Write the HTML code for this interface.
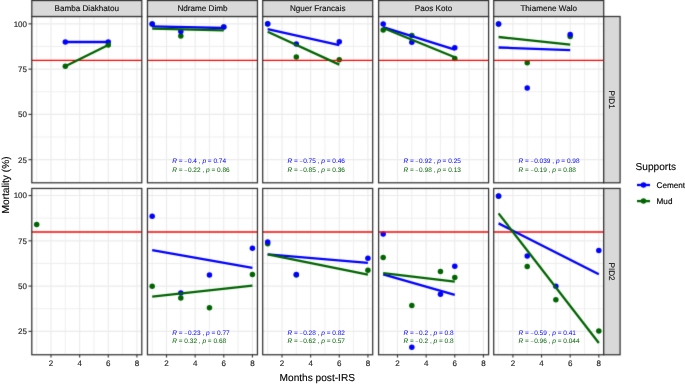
<!DOCTYPE html><html><head><meta charset="utf-8"><style>html,body{margin:0;padding:0;background:#fff;}body{width:685px;height:385px;overflow:hidden;}#wrap{width:685px;height:385px;will-change:transform;}svg{display:block;font-family:"Liberation Sans",sans-serif;text-rendering:geometricPrecision;}.tk{fill:#262626;stroke:#262626;stroke-width:0.15px;}.st{fill:#141414;stroke:#141414;stroke-width:0.15px;}.lt{fill:#000;stroke:#000;stroke-width:0.15px;}.tt{fill:#000;stroke:#000;stroke-width:0.12px;}</style></head><body><div id="wrap">
<svg width="685" height="385" viewBox="0 0 685 385">
<defs><filter id="bl" x="0" y="0" width="685" height="385" filterUnits="userSpaceOnUse" color-interpolation-filters="sRGB"><feConvolveMatrix order="3" kernelMatrix="0.0121 0.0858 0.0121 0.0858 0.6084 0.0858 0.0121 0.0858 0.0121" edgeMode="duplicate"/></filter></defs>
<g filter="url(#bl)">
<rect width="685" height="385" fill="#fff"/>
<line x1="36.68" y1="16.5" x2="36.68" y2="182.8" stroke="#ebebeb" stroke-width="0.8"/>
<line x1="65.32" y1="16.5" x2="65.32" y2="182.8" stroke="#ebebeb" stroke-width="0.8"/>
<line x1="93.96" y1="16.5" x2="93.96" y2="182.8" stroke="#ebebeb" stroke-width="0.8"/>
<line x1="122.60" y1="16.5" x2="122.60" y2="182.8" stroke="#ebebeb" stroke-width="0.8"/>
<line x1="31.8" y1="137.04" x2="141.8" y2="137.04" stroke="#ebebeb" stroke-width="0.8"/>
<line x1="31.8" y1="91.76" x2="141.8" y2="91.76" stroke="#ebebeb" stroke-width="0.8"/>
<line x1="31.8" y1="46.49" x2="141.8" y2="46.49" stroke="#ebebeb" stroke-width="0.8"/>
<line x1="51.00" y1="16.5" x2="51.00" y2="182.8" stroke="#ebebeb" stroke-width="1.1"/>
<line x1="79.64" y1="16.5" x2="79.64" y2="182.8" stroke="#ebebeb" stroke-width="1.1"/>
<line x1="108.28" y1="16.5" x2="108.28" y2="182.8" stroke="#ebebeb" stroke-width="1.1"/>
<line x1="136.92" y1="16.5" x2="136.92" y2="182.8" stroke="#ebebeb" stroke-width="1.1"/>
<line x1="31.8" y1="159.67" x2="141.8" y2="159.67" stroke="#ebebeb" stroke-width="1.1"/>
<line x1="31.8" y1="114.40" x2="141.8" y2="114.40" stroke="#ebebeb" stroke-width="1.1"/>
<line x1="31.8" y1="69.12" x2="141.8" y2="69.12" stroke="#ebebeb" stroke-width="1.1"/>
<line x1="31.8" y1="23.85" x2="141.8" y2="23.85" stroke="#ebebeb" stroke-width="1.1"/>
<circle cx="65.32" cy="42.00" r="2.75" fill="#0000ff"/>
<circle cx="108.28" cy="42.00" r="2.75" fill="#0000ff"/>
<circle cx="65.32" cy="66.20" r="2.75" fill="#006400"/>
<circle cx="108.28" cy="45.00" r="2.75" fill="#006400"/>
<line x1="31.8" y1="60.4" x2="141.8" y2="60.4" stroke="#ff0000" stroke-width="1.3"/>
<line x1="65.32" y1="42.0" x2="108.28" y2="42.0" stroke="#0000ff" stroke-width="2.3"/>
<line x1="65.32" y1="66.2" x2="108.28" y2="45.0" stroke="#006400" stroke-width="2.3"/>
<rect x="31.8" y="16.5" width="110.0" height="166.3" fill="none" stroke="#333333" stroke-width="1.25"/>
<line x1="152.18" y1="16.5" x2="152.18" y2="182.8" stroke="#ebebeb" stroke-width="0.8"/>
<line x1="180.82" y1="16.5" x2="180.82" y2="182.8" stroke="#ebebeb" stroke-width="0.8"/>
<line x1="209.46" y1="16.5" x2="209.46" y2="182.8" stroke="#ebebeb" stroke-width="0.8"/>
<line x1="238.10" y1="16.5" x2="238.10" y2="182.8" stroke="#ebebeb" stroke-width="0.8"/>
<line x1="147.45" y1="137.04" x2="257.45" y2="137.04" stroke="#ebebeb" stroke-width="0.8"/>
<line x1="147.45" y1="91.76" x2="257.45" y2="91.76" stroke="#ebebeb" stroke-width="0.8"/>
<line x1="147.45" y1="46.49" x2="257.45" y2="46.49" stroke="#ebebeb" stroke-width="0.8"/>
<line x1="166.50" y1="16.5" x2="166.50" y2="182.8" stroke="#ebebeb" stroke-width="1.1"/>
<line x1="195.14" y1="16.5" x2="195.14" y2="182.8" stroke="#ebebeb" stroke-width="1.1"/>
<line x1="223.78" y1="16.5" x2="223.78" y2="182.8" stroke="#ebebeb" stroke-width="1.1"/>
<line x1="252.42" y1="16.5" x2="252.42" y2="182.8" stroke="#ebebeb" stroke-width="1.1"/>
<line x1="147.45" y1="159.67" x2="257.45" y2="159.67" stroke="#ebebeb" stroke-width="1.1"/>
<line x1="147.45" y1="114.40" x2="257.45" y2="114.40" stroke="#ebebeb" stroke-width="1.1"/>
<line x1="147.45" y1="69.12" x2="257.45" y2="69.12" stroke="#ebebeb" stroke-width="1.1"/>
<line x1="147.45" y1="23.85" x2="257.45" y2="23.85" stroke="#ebebeb" stroke-width="1.1"/>
<circle cx="152.18" cy="23.90" r="2.75" fill="#006400"/>
<circle cx="180.82" cy="35.90" r="2.75" fill="#006400"/>
<circle cx="223.78" cy="27.10" r="2.75" fill="#006400"/>
<circle cx="152.18" cy="23.90" r="2.75" fill="#0000ff"/>
<circle cx="180.82" cy="31.40" r="2.75" fill="#0000ff"/>
<circle cx="223.78" cy="27.00" r="2.75" fill="#0000ff"/>
<line x1="147.45" y1="60.4" x2="257.45" y2="60.4" stroke="#ff0000" stroke-width="1.3"/>
<line x1="152.18" y1="26.3" x2="223.78" y2="28.0" stroke="#0000ff" stroke-width="2.3"/>
<line x1="152.18" y1="28.6" x2="223.78" y2="30.3" stroke="#006400" stroke-width="2.3"/>
<rect x="147.45" y="16.5" width="110.0" height="166.3" fill="none" stroke="#333333" stroke-width="1.25"/>
<line x1="267.68" y1="16.5" x2="267.68" y2="182.8" stroke="#ebebeb" stroke-width="0.8"/>
<line x1="296.32" y1="16.5" x2="296.32" y2="182.8" stroke="#ebebeb" stroke-width="0.8"/>
<line x1="324.96" y1="16.5" x2="324.96" y2="182.8" stroke="#ebebeb" stroke-width="0.8"/>
<line x1="353.60" y1="16.5" x2="353.60" y2="182.8" stroke="#ebebeb" stroke-width="0.8"/>
<line x1="262.7" y1="137.04" x2="372.7" y2="137.04" stroke="#ebebeb" stroke-width="0.8"/>
<line x1="262.7" y1="91.76" x2="372.7" y2="91.76" stroke="#ebebeb" stroke-width="0.8"/>
<line x1="262.7" y1="46.49" x2="372.7" y2="46.49" stroke="#ebebeb" stroke-width="0.8"/>
<line x1="282.00" y1="16.5" x2="282.00" y2="182.8" stroke="#ebebeb" stroke-width="1.1"/>
<line x1="310.64" y1="16.5" x2="310.64" y2="182.8" stroke="#ebebeb" stroke-width="1.1"/>
<line x1="339.28" y1="16.5" x2="339.28" y2="182.8" stroke="#ebebeb" stroke-width="1.1"/>
<line x1="367.92" y1="16.5" x2="367.92" y2="182.8" stroke="#ebebeb" stroke-width="1.1"/>
<line x1="262.7" y1="159.67" x2="372.7" y2="159.67" stroke="#ebebeb" stroke-width="1.1"/>
<line x1="262.7" y1="114.40" x2="372.7" y2="114.40" stroke="#ebebeb" stroke-width="1.1"/>
<line x1="262.7" y1="69.12" x2="372.7" y2="69.12" stroke="#ebebeb" stroke-width="1.1"/>
<line x1="262.7" y1="23.85" x2="372.7" y2="23.85" stroke="#ebebeb" stroke-width="1.1"/>
<circle cx="267.68" cy="23.90" r="2.75" fill="#006400"/>
<circle cx="296.32" cy="56.90" r="2.75" fill="#006400"/>
<circle cx="339.28" cy="59.70" r="2.75" fill="#006400"/>
<circle cx="267.68" cy="23.80" r="2.75" fill="#0000ff"/>
<circle cx="296.32" cy="43.90" r="2.75" fill="#0000ff"/>
<circle cx="339.28" cy="41.70" r="2.75" fill="#0000ff"/>
<line x1="262.7" y1="60.4" x2="372.7" y2="60.4" stroke="#ff0000" stroke-width="1.3"/>
<line x1="267.68" y1="29.1" x2="339.28" y2="45.1" stroke="#0000ff" stroke-width="2.3"/>
<line x1="267.68" y1="31.7" x2="339.28" y2="64.6" stroke="#006400" stroke-width="2.3"/>
<rect x="262.7" y="16.5" width="110.0" height="166.3" fill="none" stroke="#333333" stroke-width="1.25"/>
<line x1="383.18" y1="16.5" x2="383.18" y2="182.8" stroke="#ebebeb" stroke-width="0.8"/>
<line x1="411.82" y1="16.5" x2="411.82" y2="182.8" stroke="#ebebeb" stroke-width="0.8"/>
<line x1="440.46" y1="16.5" x2="440.46" y2="182.8" stroke="#ebebeb" stroke-width="0.8"/>
<line x1="469.10" y1="16.5" x2="469.10" y2="182.8" stroke="#ebebeb" stroke-width="0.8"/>
<line x1="378.6" y1="137.04" x2="488.6" y2="137.04" stroke="#ebebeb" stroke-width="0.8"/>
<line x1="378.6" y1="91.76" x2="488.6" y2="91.76" stroke="#ebebeb" stroke-width="0.8"/>
<line x1="378.6" y1="46.49" x2="488.6" y2="46.49" stroke="#ebebeb" stroke-width="0.8"/>
<line x1="397.50" y1="16.5" x2="397.50" y2="182.8" stroke="#ebebeb" stroke-width="1.1"/>
<line x1="426.14" y1="16.5" x2="426.14" y2="182.8" stroke="#ebebeb" stroke-width="1.1"/>
<line x1="454.78" y1="16.5" x2="454.78" y2="182.8" stroke="#ebebeb" stroke-width="1.1"/>
<line x1="483.42" y1="16.5" x2="483.42" y2="182.8" stroke="#ebebeb" stroke-width="1.1"/>
<line x1="378.6" y1="159.67" x2="488.6" y2="159.67" stroke="#ebebeb" stroke-width="1.1"/>
<line x1="378.6" y1="114.40" x2="488.6" y2="114.40" stroke="#ebebeb" stroke-width="1.1"/>
<line x1="378.6" y1="69.12" x2="488.6" y2="69.12" stroke="#ebebeb" stroke-width="1.1"/>
<line x1="378.6" y1="23.85" x2="488.6" y2="23.85" stroke="#ebebeb" stroke-width="1.1"/>
<circle cx="383.18" cy="23.95" r="2.75" fill="#0000ff"/>
<circle cx="411.82" cy="42.20" r="2.75" fill="#0000ff"/>
<circle cx="454.78" cy="47.70" r="2.75" fill="#0000ff"/>
<circle cx="383.18" cy="30.00" r="2.75" fill="#006400"/>
<circle cx="411.82" cy="35.50" r="2.75" fill="#006400"/>
<circle cx="454.78" cy="58.40" r="2.75" fill="#006400"/>
<line x1="378.6" y1="60.4" x2="488.6" y2="60.4" stroke="#ff0000" stroke-width="1.3"/>
<line x1="383.18" y1="27.2" x2="454.78" y2="49.6" stroke="#0000ff" stroke-width="2.3"/>
<line x1="383.18" y1="28.0" x2="454.78" y2="57.3" stroke="#006400" stroke-width="2.3"/>
<rect x="378.6" y="16.5" width="110.0" height="166.3" fill="none" stroke="#333333" stroke-width="1.25"/>
<line x1="498.58" y1="16.5" x2="498.58" y2="182.8" stroke="#ebebeb" stroke-width="0.8"/>
<line x1="527.22" y1="16.5" x2="527.22" y2="182.8" stroke="#ebebeb" stroke-width="0.8"/>
<line x1="555.86" y1="16.5" x2="555.86" y2="182.8" stroke="#ebebeb" stroke-width="0.8"/>
<line x1="584.50" y1="16.5" x2="584.50" y2="182.8" stroke="#ebebeb" stroke-width="0.8"/>
<line x1="493.7" y1="137.04" x2="603.7" y2="137.04" stroke="#ebebeb" stroke-width="0.8"/>
<line x1="493.7" y1="91.76" x2="603.7" y2="91.76" stroke="#ebebeb" stroke-width="0.8"/>
<line x1="493.7" y1="46.49" x2="603.7" y2="46.49" stroke="#ebebeb" stroke-width="0.8"/>
<line x1="512.90" y1="16.5" x2="512.90" y2="182.8" stroke="#ebebeb" stroke-width="1.1"/>
<line x1="541.54" y1="16.5" x2="541.54" y2="182.8" stroke="#ebebeb" stroke-width="1.1"/>
<line x1="570.18" y1="16.5" x2="570.18" y2="182.8" stroke="#ebebeb" stroke-width="1.1"/>
<line x1="598.82" y1="16.5" x2="598.82" y2="182.8" stroke="#ebebeb" stroke-width="1.1"/>
<line x1="493.7" y1="159.67" x2="603.7" y2="159.67" stroke="#ebebeb" stroke-width="1.1"/>
<line x1="493.7" y1="114.40" x2="603.7" y2="114.40" stroke="#ebebeb" stroke-width="1.1"/>
<line x1="493.7" y1="69.12" x2="603.7" y2="69.12" stroke="#ebebeb" stroke-width="1.1"/>
<line x1="493.7" y1="23.85" x2="603.7" y2="23.85" stroke="#ebebeb" stroke-width="1.1"/>
<circle cx="498.58" cy="23.90" r="2.75" fill="#006400"/>
<circle cx="527.22" cy="62.70" r="2.75" fill="#006400"/>
<circle cx="570.18" cy="36.40" r="2.75" fill="#006400"/>
<circle cx="498.58" cy="23.90" r="2.75" fill="#0000ff"/>
<circle cx="527.22" cy="88.10" r="2.75" fill="#0000ff"/>
<circle cx="570.18" cy="34.40" r="2.75" fill="#0000ff"/>
<line x1="493.7" y1="60.4" x2="603.7" y2="60.4" stroke="#ff0000" stroke-width="1.3"/>
<line x1="498.58" y1="47.5" x2="570.18" y2="50.2" stroke="#0000ff" stroke-width="2.3"/>
<line x1="498.58" y1="37.0" x2="570.18" y2="44.6" stroke="#006400" stroke-width="2.3"/>
<rect x="493.7" y="16.5" width="110.0" height="166.3" fill="none" stroke="#333333" stroke-width="1.25"/>
<rect x="603.7" y="16.5" width="16.4" height="166.3" fill="#d9d9d9" stroke="#333333" stroke-width="1.25"/>
<line x1="36.68" y1="188.45" x2="36.68" y2="354.75" stroke="#ebebeb" stroke-width="0.8"/>
<line x1="65.32" y1="188.45" x2="65.32" y2="354.75" stroke="#ebebeb" stroke-width="0.8"/>
<line x1="93.96" y1="188.45" x2="93.96" y2="354.75" stroke="#ebebeb" stroke-width="0.8"/>
<line x1="122.60" y1="188.45" x2="122.60" y2="354.75" stroke="#ebebeb" stroke-width="0.8"/>
<line x1="31.8" y1="308.74" x2="141.8" y2="308.74" stroke="#ebebeb" stroke-width="0.8"/>
<line x1="31.8" y1="263.46" x2="141.8" y2="263.46" stroke="#ebebeb" stroke-width="0.8"/>
<line x1="31.8" y1="218.19" x2="141.8" y2="218.19" stroke="#ebebeb" stroke-width="0.8"/>
<line x1="51.00" y1="188.45" x2="51.00" y2="354.75" stroke="#ebebeb" stroke-width="1.1"/>
<line x1="79.64" y1="188.45" x2="79.64" y2="354.75" stroke="#ebebeb" stroke-width="1.1"/>
<line x1="108.28" y1="188.45" x2="108.28" y2="354.75" stroke="#ebebeb" stroke-width="1.1"/>
<line x1="136.92" y1="188.45" x2="136.92" y2="354.75" stroke="#ebebeb" stroke-width="1.1"/>
<line x1="31.8" y1="331.38" x2="141.8" y2="331.38" stroke="#ebebeb" stroke-width="1.1"/>
<line x1="31.8" y1="286.10" x2="141.8" y2="286.10" stroke="#ebebeb" stroke-width="1.1"/>
<line x1="31.8" y1="240.83" x2="141.8" y2="240.83" stroke="#ebebeb" stroke-width="1.1"/>
<line x1="31.8" y1="195.55" x2="141.8" y2="195.55" stroke="#ebebeb" stroke-width="1.1"/>
<circle cx="36.68" cy="224.50" r="2.75" fill="#006400"/>
<line x1="31.8" y1="232.0" x2="141.8" y2="232.0" stroke="#ff0000" stroke-width="1.3"/>
<rect x="31.8" y="188.45" width="110.0" height="166.3" fill="none" stroke="#333333" stroke-width="1.25"/>
<line x1="152.18" y1="188.45" x2="152.18" y2="354.75" stroke="#ebebeb" stroke-width="0.8"/>
<line x1="180.82" y1="188.45" x2="180.82" y2="354.75" stroke="#ebebeb" stroke-width="0.8"/>
<line x1="209.46" y1="188.45" x2="209.46" y2="354.75" stroke="#ebebeb" stroke-width="0.8"/>
<line x1="238.10" y1="188.45" x2="238.10" y2="354.75" stroke="#ebebeb" stroke-width="0.8"/>
<line x1="147.45" y1="308.74" x2="257.45" y2="308.74" stroke="#ebebeb" stroke-width="0.8"/>
<line x1="147.45" y1="263.46" x2="257.45" y2="263.46" stroke="#ebebeb" stroke-width="0.8"/>
<line x1="147.45" y1="218.19" x2="257.45" y2="218.19" stroke="#ebebeb" stroke-width="0.8"/>
<line x1="166.50" y1="188.45" x2="166.50" y2="354.75" stroke="#ebebeb" stroke-width="1.1"/>
<line x1="195.14" y1="188.45" x2="195.14" y2="354.75" stroke="#ebebeb" stroke-width="1.1"/>
<line x1="223.78" y1="188.45" x2="223.78" y2="354.75" stroke="#ebebeb" stroke-width="1.1"/>
<line x1="252.42" y1="188.45" x2="252.42" y2="354.75" stroke="#ebebeb" stroke-width="1.1"/>
<line x1="147.45" y1="331.38" x2="257.45" y2="331.38" stroke="#ebebeb" stroke-width="1.1"/>
<line x1="147.45" y1="286.10" x2="257.45" y2="286.10" stroke="#ebebeb" stroke-width="1.1"/>
<line x1="147.45" y1="240.83" x2="257.45" y2="240.83" stroke="#ebebeb" stroke-width="1.1"/>
<line x1="147.45" y1="195.55" x2="257.45" y2="195.55" stroke="#ebebeb" stroke-width="1.1"/>
<circle cx="152.18" cy="216.30" r="2.75" fill="#0000ff"/>
<circle cx="180.82" cy="292.90" r="2.75" fill="#0000ff"/>
<circle cx="209.46" cy="275.10" r="2.75" fill="#0000ff"/>
<circle cx="252.42" cy="248.20" r="2.75" fill="#0000ff"/>
<circle cx="152.18" cy="286.20" r="2.75" fill="#006400"/>
<circle cx="180.82" cy="298.00" r="2.75" fill="#006400"/>
<circle cx="209.46" cy="307.80" r="2.75" fill="#006400"/>
<circle cx="252.42" cy="274.50" r="2.75" fill="#006400"/>
<line x1="147.45" y1="232.0" x2="257.45" y2="232.0" stroke="#ff0000" stroke-width="1.3"/>
<line x1="152.18" y1="250.1" x2="252.42" y2="267.9" stroke="#0000ff" stroke-width="2.3"/>
<line x1="152.18" y1="296.6" x2="252.42" y2="285.6" stroke="#006400" stroke-width="2.3"/>
<rect x="147.45" y="188.45" width="110.0" height="166.3" fill="none" stroke="#333333" stroke-width="1.25"/>
<line x1="267.68" y1="188.45" x2="267.68" y2="354.75" stroke="#ebebeb" stroke-width="0.8"/>
<line x1="296.32" y1="188.45" x2="296.32" y2="354.75" stroke="#ebebeb" stroke-width="0.8"/>
<line x1="324.96" y1="188.45" x2="324.96" y2="354.75" stroke="#ebebeb" stroke-width="0.8"/>
<line x1="353.60" y1="188.45" x2="353.60" y2="354.75" stroke="#ebebeb" stroke-width="0.8"/>
<line x1="262.7" y1="308.74" x2="372.7" y2="308.74" stroke="#ebebeb" stroke-width="0.8"/>
<line x1="262.7" y1="263.46" x2="372.7" y2="263.46" stroke="#ebebeb" stroke-width="0.8"/>
<line x1="262.7" y1="218.19" x2="372.7" y2="218.19" stroke="#ebebeb" stroke-width="0.8"/>
<line x1="282.00" y1="188.45" x2="282.00" y2="354.75" stroke="#ebebeb" stroke-width="1.1"/>
<line x1="310.64" y1="188.45" x2="310.64" y2="354.75" stroke="#ebebeb" stroke-width="1.1"/>
<line x1="339.28" y1="188.45" x2="339.28" y2="354.75" stroke="#ebebeb" stroke-width="1.1"/>
<line x1="367.92" y1="188.45" x2="367.92" y2="354.75" stroke="#ebebeb" stroke-width="1.1"/>
<line x1="262.7" y1="331.38" x2="372.7" y2="331.38" stroke="#ebebeb" stroke-width="1.1"/>
<line x1="262.7" y1="286.10" x2="372.7" y2="286.10" stroke="#ebebeb" stroke-width="1.1"/>
<line x1="262.7" y1="240.83" x2="372.7" y2="240.83" stroke="#ebebeb" stroke-width="1.1"/>
<line x1="262.7" y1="195.55" x2="372.7" y2="195.55" stroke="#ebebeb" stroke-width="1.1"/>
<circle cx="267.68" cy="243.80" r="2.75" fill="#006400"/>
<circle cx="296.32" cy="275.00" r="2.75" fill="#006400"/>
<circle cx="367.92" cy="270.20" r="2.75" fill="#006400"/>
<circle cx="267.68" cy="242.00" r="2.75" fill="#0000ff"/>
<circle cx="296.32" cy="274.40" r="2.75" fill="#0000ff"/>
<circle cx="367.92" cy="258.30" r="2.75" fill="#0000ff"/>
<line x1="262.7" y1="232.0" x2="372.7" y2="232.0" stroke="#ff0000" stroke-width="1.3"/>
<line x1="267.68" y1="254.3" x2="367.92" y2="262.8" stroke="#0000ff" stroke-width="2.3"/>
<line x1="267.68" y1="254.3" x2="367.92" y2="274.6" stroke="#006400" stroke-width="2.3"/>
<rect x="262.7" y="188.45" width="110.0" height="166.3" fill="none" stroke="#333333" stroke-width="1.25"/>
<line x1="383.18" y1="188.45" x2="383.18" y2="354.75" stroke="#ebebeb" stroke-width="0.8"/>
<line x1="411.82" y1="188.45" x2="411.82" y2="354.75" stroke="#ebebeb" stroke-width="0.8"/>
<line x1="440.46" y1="188.45" x2="440.46" y2="354.75" stroke="#ebebeb" stroke-width="0.8"/>
<line x1="469.10" y1="188.45" x2="469.10" y2="354.75" stroke="#ebebeb" stroke-width="0.8"/>
<line x1="378.6" y1="308.74" x2="488.6" y2="308.74" stroke="#ebebeb" stroke-width="0.8"/>
<line x1="378.6" y1="263.46" x2="488.6" y2="263.46" stroke="#ebebeb" stroke-width="0.8"/>
<line x1="378.6" y1="218.19" x2="488.6" y2="218.19" stroke="#ebebeb" stroke-width="0.8"/>
<line x1="397.50" y1="188.45" x2="397.50" y2="354.75" stroke="#ebebeb" stroke-width="1.1"/>
<line x1="426.14" y1="188.45" x2="426.14" y2="354.75" stroke="#ebebeb" stroke-width="1.1"/>
<line x1="454.78" y1="188.45" x2="454.78" y2="354.75" stroke="#ebebeb" stroke-width="1.1"/>
<line x1="483.42" y1="188.45" x2="483.42" y2="354.75" stroke="#ebebeb" stroke-width="1.1"/>
<line x1="378.6" y1="331.38" x2="488.6" y2="331.38" stroke="#ebebeb" stroke-width="1.1"/>
<line x1="378.6" y1="286.10" x2="488.6" y2="286.10" stroke="#ebebeb" stroke-width="1.1"/>
<line x1="378.6" y1="240.83" x2="488.6" y2="240.83" stroke="#ebebeb" stroke-width="1.1"/>
<line x1="378.6" y1="195.55" x2="488.6" y2="195.55" stroke="#ebebeb" stroke-width="1.1"/>
<circle cx="383.18" cy="234.00" r="2.75" fill="#0000ff"/>
<circle cx="411.82" cy="347.30" r="2.75" fill="#0000ff"/>
<circle cx="440.46" cy="294.20" r="2.75" fill="#0000ff"/>
<circle cx="454.78" cy="266.20" r="2.75" fill="#0000ff"/>
<circle cx="383.18" cy="257.60" r="2.75" fill="#006400"/>
<circle cx="411.82" cy="305.50" r="2.75" fill="#006400"/>
<circle cx="440.46" cy="271.40" r="2.75" fill="#006400"/>
<circle cx="454.78" cy="277.50" r="2.75" fill="#006400"/>
<line x1="378.6" y1="232.0" x2="488.6" y2="232.0" stroke="#ff0000" stroke-width="1.3"/>
<line x1="383.18" y1="274.3" x2="454.78" y2="294.8" stroke="#0000ff" stroke-width="2.3"/>
<line x1="383.18" y1="273.1" x2="454.78" y2="281.6" stroke="#006400" stroke-width="2.3"/>
<rect x="378.6" y="188.45" width="110.0" height="166.3" fill="none" stroke="#333333" stroke-width="1.25"/>
<line x1="498.58" y1="188.45" x2="498.58" y2="354.75" stroke="#ebebeb" stroke-width="0.8"/>
<line x1="527.22" y1="188.45" x2="527.22" y2="354.75" stroke="#ebebeb" stroke-width="0.8"/>
<line x1="555.86" y1="188.45" x2="555.86" y2="354.75" stroke="#ebebeb" stroke-width="0.8"/>
<line x1="584.50" y1="188.45" x2="584.50" y2="354.75" stroke="#ebebeb" stroke-width="0.8"/>
<line x1="493.7" y1="308.74" x2="603.7" y2="308.74" stroke="#ebebeb" stroke-width="0.8"/>
<line x1="493.7" y1="263.46" x2="603.7" y2="263.46" stroke="#ebebeb" stroke-width="0.8"/>
<line x1="493.7" y1="218.19" x2="603.7" y2="218.19" stroke="#ebebeb" stroke-width="0.8"/>
<line x1="512.90" y1="188.45" x2="512.90" y2="354.75" stroke="#ebebeb" stroke-width="1.1"/>
<line x1="541.54" y1="188.45" x2="541.54" y2="354.75" stroke="#ebebeb" stroke-width="1.1"/>
<line x1="570.18" y1="188.45" x2="570.18" y2="354.75" stroke="#ebebeb" stroke-width="1.1"/>
<line x1="598.82" y1="188.45" x2="598.82" y2="354.75" stroke="#ebebeb" stroke-width="1.1"/>
<line x1="493.7" y1="331.38" x2="603.7" y2="331.38" stroke="#ebebeb" stroke-width="1.1"/>
<line x1="493.7" y1="286.10" x2="603.7" y2="286.10" stroke="#ebebeb" stroke-width="1.1"/>
<line x1="493.7" y1="240.83" x2="603.7" y2="240.83" stroke="#ebebeb" stroke-width="1.1"/>
<line x1="493.7" y1="195.55" x2="603.7" y2="195.55" stroke="#ebebeb" stroke-width="1.1"/>
<circle cx="498.58" cy="196.20" r="2.75" fill="#006400"/>
<circle cx="527.22" cy="266.50" r="2.75" fill="#006400"/>
<circle cx="555.86" cy="299.70" r="2.75" fill="#006400"/>
<circle cx="598.82" cy="331.00" r="2.75" fill="#006400"/>
<circle cx="498.58" cy="195.90" r="2.75" fill="#0000ff"/>
<circle cx="527.22" cy="256.10" r="2.75" fill="#0000ff"/>
<circle cx="555.86" cy="286.30" r="2.75" fill="#0000ff"/>
<circle cx="598.82" cy="250.40" r="2.75" fill="#0000ff"/>
<line x1="493.7" y1="232.0" x2="603.7" y2="232.0" stroke="#ff0000" stroke-width="1.3"/>
<line x1="498.58" y1="223.4" x2="598.82" y2="274.3" stroke="#0000ff" stroke-width="2.3"/>
<line x1="498.58" y1="213.4" x2="598.82" y2="343.0" stroke="#006400" stroke-width="2.3"/>
<rect x="493.7" y="188.45" width="110.0" height="166.3" fill="none" stroke="#333333" stroke-width="1.25"/>
<rect x="603.7" y="188.45" width="16.4" height="166.3" fill="#d9d9d9" stroke="#333333" stroke-width="1.25"/>
<rect x="31.8" y="0.5" width="110.0" height="16" fill="#d9d9d9" stroke="#333333" stroke-width="1.25"/>
<rect x="147.45" y="0.5" width="110.0" height="16" fill="#d9d9d9" stroke="#333333" stroke-width="1.25"/>
<rect x="262.7" y="0.5" width="110.0" height="16" fill="#d9d9d9" stroke="#333333" stroke-width="1.25"/>
<rect x="378.6" y="0.5" width="110.0" height="16" fill="#d9d9d9" stroke="#333333" stroke-width="1.25"/>
<rect x="493.7" y="0.5" width="110.0" height="16" fill="#d9d9d9" stroke="#333333" stroke-width="1.25"/>
<line x1="28.5" y1="159.67" x2="31.8" y2="159.67" stroke="#333333" stroke-width="1.1"/>
<line x1="28.5" y1="114.40" x2="31.8" y2="114.40" stroke="#333333" stroke-width="1.1"/>
<line x1="28.5" y1="69.12" x2="31.8" y2="69.12" stroke="#333333" stroke-width="1.1"/>
<line x1="28.5" y1="23.85" x2="31.8" y2="23.85" stroke="#333333" stroke-width="1.1"/>
<line x1="28.5" y1="331.38" x2="31.8" y2="331.38" stroke="#333333" stroke-width="1.1"/>
<line x1="28.5" y1="286.10" x2="31.8" y2="286.10" stroke="#333333" stroke-width="1.1"/>
<line x1="28.5" y1="240.83" x2="31.8" y2="240.83" stroke="#333333" stroke-width="1.1"/>
<line x1="28.5" y1="195.55" x2="31.8" y2="195.55" stroke="#333333" stroke-width="1.1"/>
<line x1="51.00" y1="354.75" x2="51.00" y2="357.55" stroke="#333333" stroke-width="1.1"/>
<line x1="79.64" y1="354.75" x2="79.64" y2="357.55" stroke="#333333" stroke-width="1.1"/>
<line x1="108.28" y1="354.75" x2="108.28" y2="357.55" stroke="#333333" stroke-width="1.1"/>
<line x1="136.92" y1="354.75" x2="136.92" y2="357.55" stroke="#333333" stroke-width="1.1"/>
<line x1="166.50" y1="354.75" x2="166.50" y2="357.55" stroke="#333333" stroke-width="1.1"/>
<line x1="195.14" y1="354.75" x2="195.14" y2="357.55" stroke="#333333" stroke-width="1.1"/>
<line x1="223.78" y1="354.75" x2="223.78" y2="357.55" stroke="#333333" stroke-width="1.1"/>
<line x1="252.42" y1="354.75" x2="252.42" y2="357.55" stroke="#333333" stroke-width="1.1"/>
<line x1="282.00" y1="354.75" x2="282.00" y2="357.55" stroke="#333333" stroke-width="1.1"/>
<line x1="310.64" y1="354.75" x2="310.64" y2="357.55" stroke="#333333" stroke-width="1.1"/>
<line x1="339.28" y1="354.75" x2="339.28" y2="357.55" stroke="#333333" stroke-width="1.1"/>
<line x1="367.92" y1="354.75" x2="367.92" y2="357.55" stroke="#333333" stroke-width="1.1"/>
<line x1="397.50" y1="354.75" x2="397.50" y2="357.55" stroke="#333333" stroke-width="1.1"/>
<line x1="426.14" y1="354.75" x2="426.14" y2="357.55" stroke="#333333" stroke-width="1.1"/>
<line x1="454.78" y1="354.75" x2="454.78" y2="357.55" stroke="#333333" stroke-width="1.1"/>
<line x1="483.42" y1="354.75" x2="483.42" y2="357.55" stroke="#333333" stroke-width="1.1"/>
<line x1="512.90" y1="354.75" x2="512.90" y2="357.55" stroke="#333333" stroke-width="1.1"/>
<line x1="541.54" y1="354.75" x2="541.54" y2="357.55" stroke="#333333" stroke-width="1.1"/>
<line x1="570.18" y1="354.75" x2="570.18" y2="357.55" stroke="#333333" stroke-width="1.1"/>
<line x1="598.82" y1="354.75" x2="598.82" y2="357.55" stroke="#333333" stroke-width="1.1"/>
<line x1="637" y1="185.00" x2="650" y2="185.00" stroke="#0000ff" stroke-width="2.3"/>
<circle cx="643.5" cy="185.00" r="2.75" fill="#0000ff"/>
<line x1="637" y1="201.10" x2="650" y2="201.10" stroke="#006400" stroke-width="2.3"/>
<circle cx="643.5" cy="201.10" r="2.75" fill="#006400"/>
</g>
<g>
<text x="172.25" y="163.40" font-size="6.5" fill="#0000ff" stroke="#0000ff" stroke-width="0.0"><tspan font-style="italic">R</tspan> = <tspan font-size="4.8">–</tspan><tspan dx="0.9">0.4</tspan> , <tspan font-style="italic">p</tspan> = 0.74</text>
<text x="172.25" y="171.50" font-size="6.5" fill="#006400" stroke="#006400" stroke-width="0.0"><tspan font-style="italic">R</tspan> = <tspan font-size="4.8">–</tspan><tspan dx="0.9">0.22</tspan> , <tspan font-style="italic">p</tspan> = 0.86</text>
<text x="287.50" y="163.40" font-size="6.5" fill="#0000ff" stroke="#0000ff" stroke-width="0.0"><tspan font-style="italic">R</tspan> = <tspan font-size="4.8">–</tspan><tspan dx="0.9">0.75</tspan> , <tspan font-style="italic">p</tspan> = 0.46</text>
<text x="287.50" y="171.50" font-size="6.5" fill="#006400" stroke="#006400" stroke-width="0.0"><tspan font-style="italic">R</tspan> = <tspan font-size="4.8">–</tspan><tspan dx="0.9">0.85</tspan> , <tspan font-style="italic">p</tspan> = 0.36</text>
<text x="403.40" y="163.40" font-size="6.5" fill="#0000ff" stroke="#0000ff" stroke-width="0.0"><tspan font-style="italic">R</tspan> = <tspan font-size="4.8">–</tspan><tspan dx="0.9">0.92</tspan> , <tspan font-style="italic">p</tspan> = 0.25</text>
<text x="403.40" y="171.50" font-size="6.5" fill="#006400" stroke="#006400" stroke-width="0.0"><tspan font-style="italic">R</tspan> = <tspan font-size="4.8">–</tspan><tspan dx="0.9">0.98</tspan> , <tspan font-style="italic">p</tspan> = 0.13</text>
<text x="518.50" y="163.40" font-size="6.5" fill="#0000ff" stroke="#0000ff" stroke-width="0.0"><tspan font-style="italic">R</tspan> = <tspan font-size="4.8">–</tspan><tspan dx="0.9">0.039</tspan> , <tspan font-style="italic">p</tspan> = 0.98</text>
<text x="518.50" y="171.50" font-size="6.5" fill="#006400" stroke="#006400" stroke-width="0.0"><tspan font-style="italic">R</tspan> = <tspan font-size="4.8">–</tspan><tspan dx="0.9">0.19</tspan> , <tspan font-style="italic">p</tspan> = 0.88</text>
<text transform="translate(609.3,99.65) rotate(90)" text-anchor="middle" font-size="8.15" class="st">PID1</text>
<text x="172.25" y="335.20" font-size="6.5" fill="#0000ff" stroke="#0000ff" stroke-width="0.0"><tspan font-style="italic">R</tspan> = <tspan font-size="4.8">–</tspan><tspan dx="0.9">0.23</tspan> , <tspan font-style="italic">p</tspan> = 0.77</text>
<text x="172.25" y="343.30" font-size="6.5" fill="#006400" stroke="#006400" stroke-width="0.0"><tspan font-style="italic">R</tspan> = 0.32 , <tspan font-style="italic">p</tspan> = 0.68</text>
<text x="287.50" y="335.20" font-size="6.5" fill="#0000ff" stroke="#0000ff" stroke-width="0.0"><tspan font-style="italic">R</tspan> = <tspan font-size="4.8">–</tspan><tspan dx="0.9">0.28</tspan> , <tspan font-style="italic">p</tspan> = 0.82</text>
<text x="287.50" y="343.30" font-size="6.5" fill="#006400" stroke="#006400" stroke-width="0.0"><tspan font-style="italic">R</tspan> = <tspan font-size="4.8">–</tspan><tspan dx="0.9">0.62</tspan> , <tspan font-style="italic">p</tspan> = 0.57</text>
<text x="403.40" y="335.20" font-size="6.5" fill="#0000ff" stroke="#0000ff" stroke-width="0.0"><tspan font-style="italic">R</tspan> = <tspan font-size="4.8">–</tspan><tspan dx="0.9">0.2</tspan> , <tspan font-style="italic">p</tspan> = 0.8</text>
<text x="403.40" y="343.30" font-size="6.5" fill="#006400" stroke="#006400" stroke-width="0.0"><tspan font-style="italic">R</tspan> = <tspan font-size="4.8">–</tspan><tspan dx="0.9">0.2</tspan> , <tspan font-style="italic">p</tspan> = 0.8</text>
<text x="518.50" y="335.20" font-size="6.5" fill="#0000ff" stroke="#0000ff" stroke-width="0.0"><tspan font-style="italic">R</tspan> = <tspan font-size="4.8">–</tspan><tspan dx="0.9">0.59</tspan> , <tspan font-style="italic">p</tspan> = 0.41</text>
<text x="518.50" y="343.30" font-size="6.5" fill="#006400" stroke="#006400" stroke-width="0.0"><tspan font-style="italic">R</tspan> = <tspan font-size="4.8">–</tspan><tspan dx="0.9">0.96</tspan> , <tspan font-style="italic">p</tspan> = 0.044</text>
<text transform="translate(609.3,271.60) rotate(90)" text-anchor="middle" font-size="8.15" class="st">PID2</text>
<text x="86.80" y="11.1" text-anchor="middle" font-size="8.15" class="st">Bamba Diakhatou</text>
<text x="202.45" y="11.1" text-anchor="middle" font-size="8.15" class="st">Ndrame Dimb</text>
<text x="317.70" y="11.1" text-anchor="middle" font-size="8.15" class="st">Nguer Francais</text>
<text x="433.60" y="11.1" text-anchor="middle" font-size="8.15" class="st">Paos Koto</text>
<text x="548.70" y="11.1" text-anchor="middle" font-size="8.15" class="st">Thiamene Walo</text>
<text x="27.0" y="162.57" text-anchor="end" font-size="8.0" class="tk">25</text>
<text x="27.0" y="117.30" text-anchor="end" font-size="8.0" class="tk">50</text>
<text x="27.0" y="72.03" text-anchor="end" font-size="8.0" class="tk">75</text>
<text x="27.0" y="26.75" text-anchor="end" font-size="8.0" class="tk">100</text>
<text x="27.0" y="334.27" text-anchor="end" font-size="8.0" class="tk">25</text>
<text x="27.0" y="289.00" text-anchor="end" font-size="8.0" class="tk">50</text>
<text x="27.0" y="243.73" text-anchor="end" font-size="8.0" class="tk">75</text>
<text x="27.0" y="198.45" text-anchor="end" font-size="8.0" class="tk">100</text>
<text x="51.00" y="365.5" text-anchor="middle" font-size="8.0" class="tk">2</text>
<text x="79.64" y="365.5" text-anchor="middle" font-size="8.0" class="tk">4</text>
<text x="108.28" y="365.5" text-anchor="middle" font-size="8.0" class="tk">6</text>
<text x="136.92" y="365.5" text-anchor="middle" font-size="8.0" class="tk">8</text>
<text x="166.50" y="365.5" text-anchor="middle" font-size="8.0" class="tk">2</text>
<text x="195.14" y="365.5" text-anchor="middle" font-size="8.0" class="tk">4</text>
<text x="223.78" y="365.5" text-anchor="middle" font-size="8.0" class="tk">6</text>
<text x="252.42" y="365.5" text-anchor="middle" font-size="8.0" class="tk">8</text>
<text x="282.00" y="365.5" text-anchor="middle" font-size="8.0" class="tk">2</text>
<text x="310.64" y="365.5" text-anchor="middle" font-size="8.0" class="tk">4</text>
<text x="339.28" y="365.5" text-anchor="middle" font-size="8.0" class="tk">6</text>
<text x="367.92" y="365.5" text-anchor="middle" font-size="8.0" class="tk">8</text>
<text x="397.50" y="365.5" text-anchor="middle" font-size="8.0" class="tk">2</text>
<text x="426.14" y="365.5" text-anchor="middle" font-size="8.0" class="tk">4</text>
<text x="454.78" y="365.5" text-anchor="middle" font-size="8.0" class="tk">6</text>
<text x="483.42" y="365.5" text-anchor="middle" font-size="8.0" class="tk">8</text>
<text x="512.90" y="365.5" text-anchor="middle" font-size="8.0" class="tk">2</text>
<text x="541.54" y="365.5" text-anchor="middle" font-size="8.0" class="tk">4</text>
<text x="570.18" y="365.5" text-anchor="middle" font-size="8.0" class="tk">6</text>
<text x="598.82" y="365.5" text-anchor="middle" font-size="8.0" class="tk">8</text>
<text x="317.3" y="381.3" text-anchor="middle" font-size="10.15" class="tt">Months post-IRS</text>
<text transform="translate(9.3,185.0) rotate(-90)" text-anchor="middle" font-size="10.2" class="tt">Mortality (%)</text>
<text x="635.6" y="170.3" font-size="10.1" class="tt">Supports</text>
<text x="656.6" y="187.80" font-size="8.15" class="lt">Cement</text>
<text x="656.6" y="203.90" font-size="8.15" class="lt">Mud</text>
</g></svg></div></body></html>
